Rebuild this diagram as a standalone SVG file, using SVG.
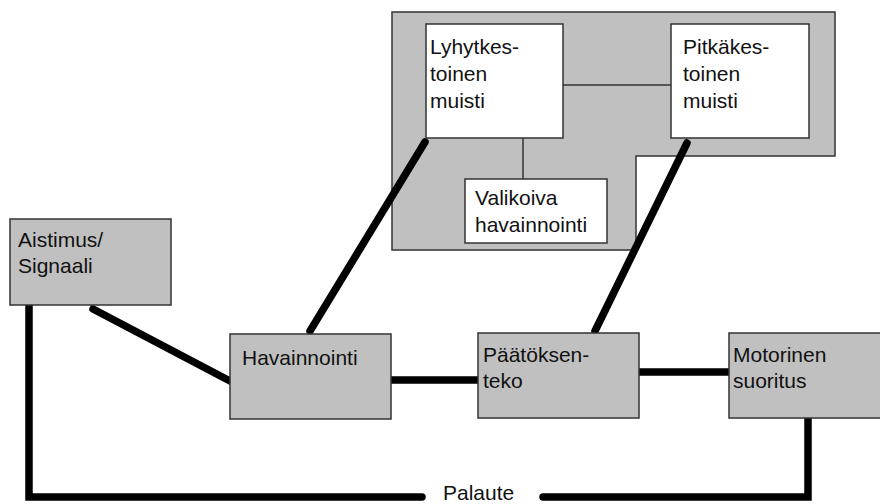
<svg xmlns="http://www.w3.org/2000/svg" width="880" height="504" viewBox="0 0 880 504">
<style>
.box{fill:#c0c0c0;stroke:#333;stroke-width:1.5}
.wbox{fill:#fff;stroke:#333;stroke-width:1.5}
.thin{stroke:#333;stroke-width:1.5;fill:none}
.thick{stroke:#000;stroke-width:7.5;fill:none;stroke-linecap:round;stroke-linejoin:miter}
text{font-family:"Liberation Sans",Arial,sans-serif;font-size:21px;fill:#111}
</style>
<rect width="880" height="504" fill="#fff"/>
<g id="container">
<polygon class="box" points="392,12 835,12 835,156 636,156 636,250 392,250"/>
</g>
<g id="connectors">
<line class="thin" x1="563" y1="85" x2="671" y2="85"/>
<line class="thin" x1="523" y1="138" x2="523" y2="179"/>
<line class="thick" x1="93" y1="309" x2="230" y2="381"/>
<line class="thick" x1="310" y1="331" x2="425" y2="142"/>
<line class="thick" x1="391" y1="380" x2="478" y2="380"/>
<line class="thick" x1="595" y1="331" x2="687" y2="143"/>
<line class="thick" x1="639" y1="372" x2="729" y2="372"/>
<polyline class="thick" points="29,305 29,497 422,497"/>
<polyline class="thick" points="543,497 808,497 808,418"/>
</g>
<g id="lyhyt">
<rect class="wbox" x="426" y="24" width="137" height="114"/>
<text x="430" y="54">Lyhytkes-</text>
<text x="430" y="81">toinen</text>
<text x="430" y="108">muisti</text>
</g>
<g id="pitka">
<rect class="wbox" x="671" y="24" width="138" height="114"/>
<text x="683" y="54">Pitkäkes-</text>
<text x="683" y="81">toinen</text>
<text x="683" y="108">muisti</text>
</g>
<g id="valikoiva">
<rect class="wbox" x="465" y="179" width="142" height="64"/>
<text x="475" y="205">Valikoiva</text>
<text x="475" y="232">havainnointi</text>
</g>
<g id="aistimus">
<rect class="box" x="10" y="219" width="161" height="86"/>
<text x="18" y="247">Aistimus/</text>
<text x="18" y="273">Signaali</text>
</g>
<g id="havainnointi">
<rect class="box" x="230" y="334" width="161" height="85"/>
<text x="242" y="365">Havainnointi</text>
</g>
<g id="paatoksenteko">
<rect class="box" x="478" y="333" width="161" height="85"/>
<text x="483" y="362">Päätöksen-</text>
<text x="483" y="388">teko</text>
</g>
<g id="motorinen">
<rect class="box" x="729" y="333" width="161" height="85"/>
<text x="733" y="362">Motorinen</text>
<text x="733" y="388">suoritus</text>
</g>
<g id="palaute">
<text x="443" y="500">Palaute</text>
</g>
</svg>
